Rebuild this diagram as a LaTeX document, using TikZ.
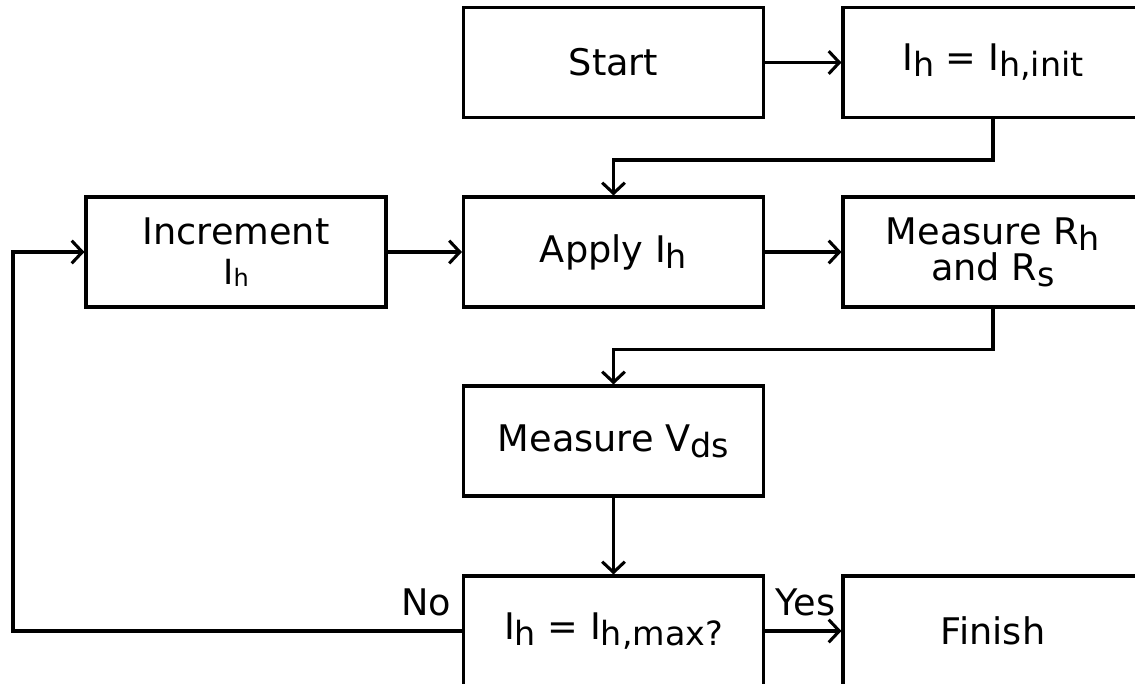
\documentclass[tikz,border=0pt]{standalone}
\usepackage{fontspec}
\setmainfont{DejaVu Sans}
\usetikzlibrary{arrows.meta}
% lowered, nearly full-size index used in the labels
\newcommand\lowidx[1]{\raisebox{-4.5pt}{\fontsize{25}{30}\selectfont #1}}
\begin{document}
\begin{tikzpicture}[x=0.75pt,y=-0.75pt,
  box/.style={draw, line width=2.3pt, minimum width=225pt, minimum height=82.5pt,
    inner sep=0pt, align=center, font=\fontsize{27.5}{31}\selectfont},
  arr/.style={line width=2.3pt, -{Straight Barb[length=8pt,width=17pt,line width=2.3pt]}},
  lbl/.style={font=\fontsize{27.5}{31}\selectfont, inner sep=0pt}]
\useasboundingbox (0,0) rectangle (1135,684);
\clip (0,0) rectangle (1135,684);

% process boxes
\node[box] (start)  at (613.5,62.5) {Start};
\node[box] (init)   at (993,62.5)   {I\lowidx{h} = I\lowidx{h,init}};
\node[box] (inc)    at (236,252)    {Increment\\[-1pt]{\fontsize{26}{30}\selectfont I\raisebox{-2pt}{\fontsize{18}{20}\selectfont h}}};
\node[box] (apply)  at (613.5,252)  {Apply I\lowidx{h}};
\node[box] (measR)  at (993,252)    {Measure R\lowidx{h}\\[-4pt]and R\lowidx{s}};
\node[box] (vds)    at (613.5,441)  {Measure V\lowidx{ds}};
\node[box] (check)  at (613.5,631)  {I\lowidx{h} = I\lowidx{h,max?}};
\node[box] (finish) at (993,631)    {Finish};

\coordinate (loopx) at (13,631);

% connectors
\draw[arr] (start.east) -- (init.west);
\draw[arr] (init.south) -- ++(0,41) -| (apply.north);
\draw[arr] (inc.east) -- (apply.west);
\draw[arr] (apply.east) -- (measR.west);
\draw[arr] (measR.south) -- ++(0,41) -| (vds.north);
\draw[arr] (vds.south) -- (check.north);
\draw[arr] (check.east) -- (finish.west);
\draw[arr] (check.west) -- (loopx) |- (inc.west);

% branch labels
\node[lbl, anchor=base east] (no) at ([xshift=-8pt,yshift=12pt]check.west) {No};
\node[lbl, anchor=base west] (yes) at ([xshift=8pt,yshift=12pt]check.east) {Yes};
\end{tikzpicture}
\end{document}
